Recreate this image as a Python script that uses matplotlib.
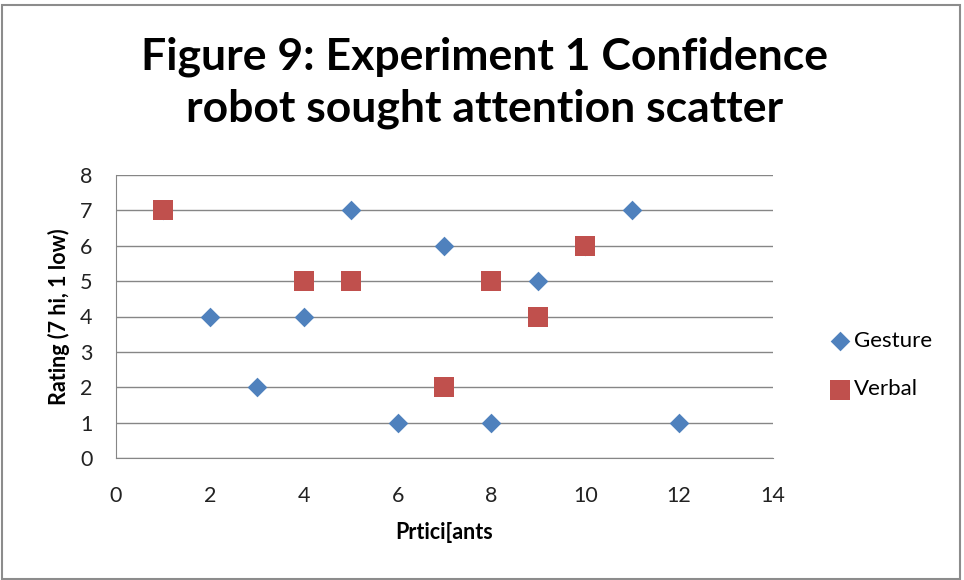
import matplotlib
matplotlib.use("Agg")
import matplotlib.pyplot as plt
from matplotlib.patches import Rectangle

# participant number and rating
gesture_x = [1, 2, 3, 4, 5, 6, 7, 8, 9, 10, 11, 12]
gesture_y = [7, 4, 2, 4, 7, 1, 6, 1, 5, 6, 7, 1]
verbal_x = [1, 4, 5, 7, 8, 9, 10]
verbal_y = [7, 5, 5, 2, 5, 4, 6]

BLUE = "#4F81BD"
RED = "#C0504D"
GRID = "#868686"
FONT = ["Lato", "DejaVu Sans"]

fig = plt.figure(figsize=(9.64, 5.80), dpi=100)
fig.patch.set_facecolor("white")
fig.patches.append(Rectangle((2 / 964, 1 / 580), 958 / 964, 574 / 580,
                             transform=fig.transFigure, fill=False,
                             edgecolor="#8c8c8c", lw=1.5))

ax = fig.add_axes([116 / 964, 1 - 458 / 580, (773 - 116) / 964, (458 - 175) / 580])
ax.scatter(gesture_x, gesture_y, marker="D", s=10 ** 2, color=BLUE,
           linewidths=0, label="Gesture", zorder=3)
ax.scatter(verbal_x, verbal_y, marker="s", s=14 ** 2, color=RED,
           linewidths=0, label="Verbal", zorder=4)

ax.set_xlim(0, 14)
ax.set_ylim(0, 8)
ax.set_xticks(range(0, 15, 2))
ax.set_yticks(range(0, 9))
ax.yaxis.grid(True, color=GRID, lw=1)
ax.set_axisbelow(True)
for s in ("top", "right"):
    ax.spines[s].set_visible(False)
for s in ("left", "bottom"):
    ax.spines[s].set_color(GRID)
ax.tick_params(length=0, labelcolor="#222222", labelsize=15.5)
ax.tick_params(axis="x", pad=20)
ax.tick_params(axis="y", pad=17)
for lab in ax.get_xticklabels() + ax.get_yticklabels():
    lab.set_family(FONT)

ax.set_xlabel("Prtici[ants", family=FONT, fontweight="bold", fontsize=15.5,
              labelpad=12)
ax.set_ylabel("Rating (7 hi, 1 low)", family=FONT, fontweight="bold",
              fontsize=15.5, labelpad=7)

fig.text(0.503, 0.777, "Figure 9: Experiment 1 Confidence\nrobot sought attention scatter",
         ha="center", va="bottom", family=FONT, fontweight="bold", fontsize=32,
         linespacing=1.35)

leg = fig.legend(loc="center left", bbox_to_anchor=(808 / 964, 1 - 365 / 580),
                 frameon=False, prop={"family": FONT, "size": 16},
                 handletextpad=0.05, labelspacing=1.3, handlelength=1.1)

fig.savefig("out.png", dpi=100)
